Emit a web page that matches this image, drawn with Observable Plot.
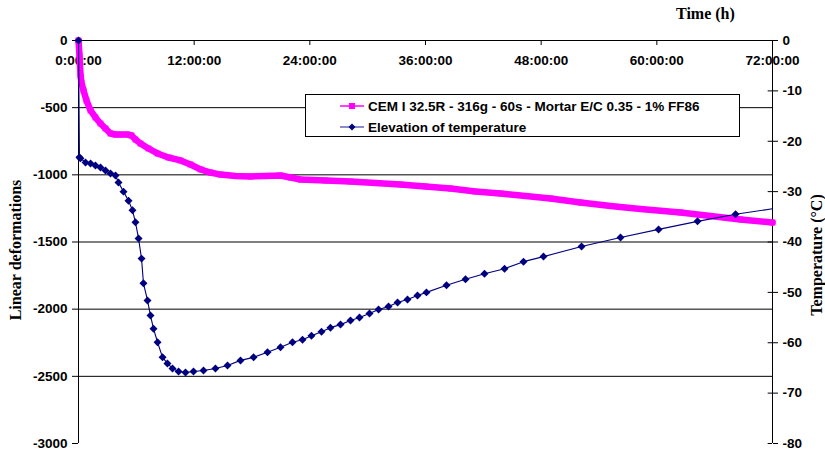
<!DOCTYPE html>
<html>
<head>
<meta charset="utf-8">
<script src="https://cdn.jsdelivr.net/npm/d3@7"></script>
<script src="https://cdn.jsdelivr.net/npm/@observablehq/plot@0.6"></script>
<style>
  html, body { margin: 0; padding: 0; background: #fff; }
  #wrap { position: relative; width: 825px; height: 454px; overflow: hidden; }
  .ttl { position: absolute; font-family: "Liberation Serif", "Times New Roman", serif; font-weight: bold; font-size: 16px; color: #000; white-space: nowrap; }
  #legend { position: absolute; left: 305px; top: 94px; width: 433px; height: 41px; border: 1px solid #000; background: #fff;
            font-family: "Liberation Sans", Arial, sans-serif; font-weight: bold; font-size: 13.5px; color: #000; }
  .lrow { position: absolute; left: 34px; height: 16px; display: flex; align-items: center; white-space: nowrap; }
  .lrow svg { margin-right: 4px; }
</style>
</head>
<body>
<div id="wrap">
  <div id="chart"></div>
  <div class="ttl" id="xt" style="left:676px; top:5px;">Time (h)</div>
  <div class="ttl" id="ylt" style="left:16px; top:250px; transform: translate(-50%,-50%) rotate(-90deg);">Linear deformations</div>
  <div class="ttl" id="yrt" style="left:817px; top:255px; transform: translate(-50%,-50%) rotate(-90deg);">Temperature (°C)</div>
  <div id="legend"></div>
</div>
<script>
// ---------- data ----------
const seriesNames = ["CEM I 32.5R - 316g - 60s - Mortar E/C 0.35 - 1% FF86", "Elevation of temperature"];
const seriesColors = ["#FF00FF", "#000080"];

// Linear deformation (left axis) – time in hours
const deformHours = [0, 0.1, 0.21, 0.31, 0.52, 0.83, 1.25, 1.76, 2.28, 2.8, 3.32, 3.84, 4.36, 5.08, 5.5, 5.91, 6.43, 7.26, 8.2, 9.34, 10.58, 11.62, 12.66, 13.69, 14.73, 16.29, 17.84, 19.4, 20.96, 22.0, 23.03, 25.63, 28.22, 30.81, 33.41, 36.0, 38.6, 41.19, 43.78, 46.38, 48.97, 52.08, 55.2, 58.31, 62.46, 65.57, 68.68, 72.0];
const deformValues = [0, -110, -260, -313, -372, -447, -521, -573, -618, -655, -692, -700, -700, -700, -707, -737, -767, -804, -841, -871, -893, -923, -960, -983, -998, -1009, -1012, -1009, -1005, -1020, -1035, -1042, -1050, -1061, -1072, -1087, -1102, -1124, -1139, -1158, -1176, -1206, -1232, -1254, -1280, -1306, -1332, -1355];

// Temperature elevation (right axis) – time in hours
const tempHours = [0, 0.1, 0.2, 0.73, 1.25, 1.76, 2.28, 2.8, 3.32, 3.84, 4.15, 4.67, 5.19, 5.6, 5.91, 6.23, 6.54, 6.74, 7.16, 7.47, 7.78, 8.2, 8.72, 9.23, 9.75, 10.38, 11.1, 11.93, 12.97, 14.21, 15.46, 16.81, 18.16, 19.61, 20.96, 22.2, 23.24, 24.17, 25.21, 26.14, 27.18, 28.22, 29.15, 30.19, 31.13, 32.16, 33.1, 34.13, 35.17, 36.1, 38.18, 40.15, 42.12, 44.2, 46.17, 48.24, 52.19, 56.23, 60.18, 64.22, 68.17, 72.0];
const tempValues = [0, -23.2, -23.4, -24.2, -24.4, -24.8, -25.2, -25.8, -26.4, -26.8, -28.2, -30.0, -31.8, -33.7, -36.1, -39.3, -43.3, -48.2, -51.6, -54.6, -57.2, -59.9, -62.9, -64.1, -65.1, -65.7, -65.9, -65.7, -65.5, -65.1, -64.5, -63.5, -62.9, -61.9, -60.9, -59.9, -59.4, -58.6, -57.8, -57.0, -56.4, -55.6, -55.0, -54.2, -53.4, -52.8, -52.0, -51.4, -50.6, -50.0, -48.6, -47.4, -46.3, -45.3, -43.9, -42.9, -40.9, -39.1, -37.5, -35.9, -34.5, -33.4];
const tempMarked = tempHours.map((h, i) => i < tempHours.length - 1); // last value is the line end at the axis

// Axes
const xTickHours = [0, 12, 24, 36, 48, 60, 72];
const xTickLabels = ["0:00:00", "12:00:00", "24:00:00", "36:00:00", "48:00:00", "60:00:00", "72:00:00"];
const yTicks = [0, -500, -1000, -1500, -2000, -2500, -3000];
const yGrid = [-500, -1000, -1500, -2000, -2500];
const tempTicks = [0, -10, -20, -30, -40, -50, -60, -70, -80];

// ---------- chart ----------
const K = 3000 / 80; // temperature -> left-axis units
const deform = deformHours.map((h, i) => ({h, v: deformValues[i]}));
const temp = tempHours.map((h, i) => ({h, t: tempValues[i], v: tempValues[i] * K, m: tempMarked[i]}));

const chart = Plot.plot({
  width: 825, height: 454,
  marginLeft: 78, marginRight: 53, marginTop: 40, marginBottom: 11,
  x: {domain: [0, 72]},
  y: {domain: [-3000, 0]},
  style: {fontFamily: "'Liberation Sans', Arial, sans-serif", fontWeight: "bold", fontSize: "13.5px", color: "#000", background: "#fff", overflow: "visible"},
  marks: [
    Plot.ruleY(yGrid, {stroke: "#000", strokeWidth: 1}),
    Plot.axisY({anchor: "left", ticks: yTicks, tickSize: 6, tickPadding: 5, tickFormat: d => String(d), label: null}),
    Plot.ruleX([0], {stroke: "#000"}),
    Plot.axisY({anchor: "right", ticks: tempTicks.map(t => t * K), tickSize: 5, tickPadding: 5, tickFormat: d => String(Math.round(d / K)), label: null}),
    Plot.ruleY(tempTicks.map(t => t * K), {x1: 71.55, x2: 72, stroke: "#000"}),
    Plot.ruleX([72], {stroke: "#000"}),
    Plot.axisX({anchor: "top", ticks: xTickHours, tickSize: -4, tickPadding: -20, tickFormat: d => xTickLabels[xTickHours.indexOf(d)], label: null}),
    Plot.ruleY([0], {stroke: "#000"}),
    Plot.line(deform, {x: "h", y: "v", stroke: seriesColors[0], strokeWidth: 6.5}),
    Plot.dot(deform, {x: "h", y: "v", symbol: "square", r: 3.3, fill: seriesColors[0], stroke: "none"}),
    Plot.line(temp, {x: "h", y: "v", stroke: seriesColors[1], strokeWidth: 1.1}),
    Plot.dot(temp.filter(d => d.m), {x: "h", y: "v", symbol: "diamond2", r: 3.6, fill: seriesColors[1], stroke: "none"})
  ]
});
document.getElementById("chart").appendChild(chart);

// ---------- legend ----------
const legend = document.getElementById("legend");
seriesNames.forEach((name, i) => {
  const row = document.createElement("div");
  row.className = "lrow";
  row.style.top = (i === 0 ? 3 : 24) + "px";
  const marker = i === 0
    ? `<rect x="9" y="4" width="6" height="6" fill="${seriesColors[0]}"/>`
    : `<path d="M12,3.5 L15.5,7 L12,10.5 L8.5,7 Z" fill="${seriesColors[1]}"/>`;
  const lineColor = i === 0 ? seriesColors[0] : "#6666bb";
  row.innerHTML = `<svg width="24" height="14"><line x1="0" x2="24" y1="7" y2="7" stroke="${lineColor}" stroke-width="1.5"/>${marker}</svg><span>${name}</span>`;
  legend.appendChild(row);
});
</script>
</body>
</html>
